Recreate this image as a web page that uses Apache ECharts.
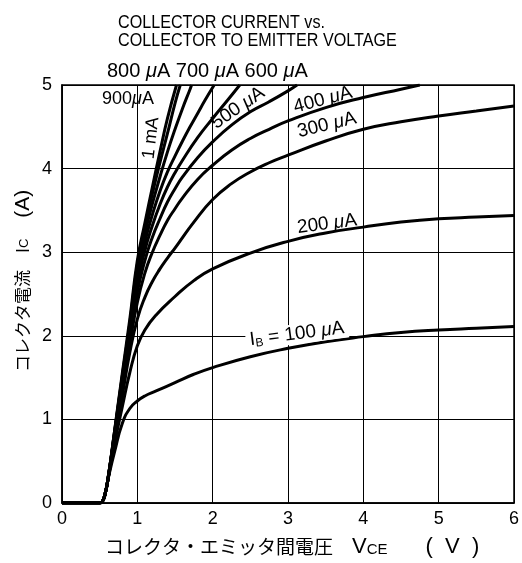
<!DOCTYPE html>
<html>
<head>
<meta charset="utf-8">
<script src="https://cdn.jsdelivr.net/npm/echarts@6/dist/echarts.min.js"></script>
<style>
html,body{margin:0;padding:0;background:#fff;}
#c{width:522px;height:563px;}
</style>
</head>
<body>
<div id="c"></div>
<script>
// Data (VCE [V], IC [A]) per base current
const xTicks = [0, 1, 2, 3, 4, 5, 6];
const yTicks = [0, 1, 2, 3, 4, 5];
const ib100 = [[0,0],[0.5,0],[0.53,0.01],[0.57,0.1],[0.62,0.32],[0.7,0.62],[0.8,0.95],[0.9,1.13],[1.0,1.22],[1.1,1.28],[1.25,1.34],[1.5,1.44],[1.75,1.54],[2,1.62],[2.5,1.75],[3,1.85],[3.5,1.93],[4,1.99],[4.5,2.04],[5,2.07],[5.5,2.09],[6,2.11]];
const ib200 = [[0,0],[0.5,0],[0.53,0.01],[0.57,0.1],[0.62,0.33],[0.7,0.72],[0.8,1.15],[0.9,1.56],[1.0,1.88],[1.1,2.07],[1.25,2.25],[1.5,2.47],[1.75,2.66],[2,2.8],[2.5,2.99],[3,3.13],[3.5,3.23],[4,3.3],[4.5,3.36],[5,3.4],[5.5,3.42],[6,3.44]];
const ib300 = [[0,0],[0.5,0],[0.53,0.01],[0.57,0.1],[0.62,0.33],[0.7,0.78],[0.8,1.28],[0.9,1.8],[1.0,2.2],[1.1,2.46],[1.2,2.65],[1.3,2.8],[1.4,2.93],[1.5,3.05],[1.75,3.36],[2,3.63],[2.25,3.82],[2.5,3.96],[2.75,4.07],[3,4.16],[3.5,4.33],[4,4.47],[4.5,4.56],[5,4.63],[5.5,4.69],[6,4.75]];
const ib400 = [[0,0],[0.5,0],[0.53,0.01],[0.57,0.1],[0.62,0.34],[0.7,0.81],[0.8,1.35],[0.9,1.9],[1.0,2.4],[1.1,2.75],[1.2,3.0],[1.3,3.2],[1.4,3.38],[1.5,3.52],[1.6,3.65],[1.8,3.87],[2,4.04],[2.25,4.22],[2.5,4.36],[2.75,4.47],[3,4.57],[3.5,4.73],[4,4.85],[4.5,4.95],[4.75,5.0]];
const ib500 = [[0,0],[0.5,0],[0.53,0.01],[0.57,0.1],[0.62,0.34],[0.7,0.83],[0.8,1.4],[0.9,1.95],[1.0,2.52],[1.1,2.9],[1.2,3.18],[1.3,3.4],[1.4,3.6],[1.5,3.76],[1.6,3.9],[1.8,4.13],[2,4.32],[2.25,4.52],[2.5,4.68],[2.75,4.8],[3,4.93],[3.12,5.0]];
const ib600 = [[0,0],[0.5,0],[0.53,0.01],[0.57,0.1],[0.62,0.34],[0.7,0.84],[0.8,1.44],[0.9,2.0],[1.0,2.62],[1.1,3.02],[1.2,3.32],[1.3,3.57],[1.4,3.78],[1.5,3.95],[1.6,4.1],[1.8,4.37],[2,4.6],[2.2,4.82],[2.36,5.0]];
const ib700 = [[0,0],[0.5,0],[0.53,0.01],[0.57,0.1],[0.62,0.34],[0.7,0.85],[0.8,1.47],[0.9,2.05],[1.0,2.7],[1.1,3.12],[1.2,3.45],[1.3,3.73],[1.4,3.96],[1.5,4.15],[1.6,4.33],[1.7,4.5],[1.8,4.66],[1.9,4.82],[2.02,5.0]];
const ib800 = [[0,0],[0.5,0],[0.53,0.01],[0.57,0.1],[0.62,0.35],[0.7,0.86],[0.8,1.5],[0.9,2.1],[1.0,2.78],[1.1,3.22],[1.2,3.58],[1.3,3.9],[1.4,4.2],[1.5,4.47],[1.6,4.72],[1.7,4.95],[1.72,5.0]];
const ib900 = [[0,0],[0.5,0],[0.53,0.01],[0.57,0.1],[0.62,0.35],[0.7,0.87],[0.8,1.52],[0.9,2.15],[1.0,2.85],[1.1,3.3],[1.2,3.7],[1.3,4.07],[1.4,4.42],[1.5,4.78],[1.57,5.0]];
const ib1000 = [[0,0],[0.5,0],[0.53,0.01],[0.57,0.1],[0.62,0.35],[0.7,0.88],[0.8,1.55],[0.9,2.2],[1.0,2.9],[1.1,3.35],[1.2,3.78],[1.3,4.2],[1.4,4.6],[1.52,5.0]];
const seriesNames = ['100 µA','200 µA','300 µA','400 µA','500 µA','600 µA','700 µA','800 µA','900 µA','1 mA'];
const seriesData = [ib100, ib200, ib300, ib400, ib500, ib600, ib700, ib800, ib900, ib1000];

const chart = echarts.init(document.getElementById('c'), null, {renderer: 'canvas'});
const FONT = '"Liberation Sans", Arial, Helvetica, sans-serif';
const JFONT = '"Noto Sans CJK JP", "Liberation Sans", sans-serif';

const series = seriesData.map((d, i) => ({
  name: seriesNames[i],
  type: 'line',
  data: d,
  showSymbol: false,
  smooth: 0.5,
  clip: true,
  lineStyle: {color: '#000', width: 3},
  silent: true,
  z: 3
}));

const mu = (fs) => ({fontFamily: FONT, fontStyle: 'italic', fontSize: fs, fill: '#000'});

chart.setOption({
  animation: false,
  backgroundColor: '#fff',
  grid: {left: 62, right: 8, top: 85, bottom: 60, show: true, borderColor: '#000', borderWidth: 1.5, backgroundColor: 'transparent'},
  xAxis: {
    type: 'value', min: xTicks[0], max: xTicks[xTicks.length - 1], interval: 1,
    axisLine: {show: true, lineStyle: {color: '#000', width: 1.5}},
    axisTick: {show: false},
    splitLine: {show: true, lineStyle: {color: '#000', width: 1}},
    axisLabel: {color: '#000', fontSize: 18, fontFamily: FONT, margin: 7}
  },
  yAxis: {
    type: 'value', min: yTicks[0], max: yTicks[yTicks.length - 1], interval: 1,
    axisLine: {show: true, lineStyle: {color: '#000', width: 1.5}},
    axisTick: {show: false},
    splitLine: {show: true, lineStyle: {color: '#000', width: 1}},
    axisLabel: {color: '#000', fontSize: 18, fontFamily: FONT, margin: 10}
  },
  series: series,
  graphic: [
    {type: 'text', x: 118, y: 14, scaleX: 0.95, scaleY: 1.1, style: {text: 'COLLECTOR CURRENT vs.\nCOLLECTOR TO EMITTER VOLTAGE', font: '17px ' + FONT, fill: '#000', lineHeight: 16}},
    // x axis name
    {type: 'text', x: 105, y: 547, style: {
      text: 'コレクタ・エミッタ間電圧　{v|V}{s|CE}　　{v|(  V  )}',
      font: '19px ' + JFONT, fill: '#000', align: 'left', verticalAlign: 'middle',
      rich: {
        v: {fontSize: 22, fontFamily: FONT, fill: '#000'},
        s: {fontSize: 15, fontFamily: FONT, fill: '#000', padding: [5,0,0,0]}
      }
    }},
    // y axis name
    {type: 'text', x: 23, y: 372, rotation: Math.PI / 2, style: {
      text: 'コレクタ電流　I{s|C}　 {p|(A)}',
      font: '17px ' + JFONT, fill: '#000', align: 'left', verticalAlign: 'middle',
      rich: {
        s: {fontSize: 13, fontFamily: FONT, fill: '#000', padding: [3,0,0,0]},
        p: {fontSize: 21, fontFamily: FONT, fill: '#000'}
      }
    }},
    // curve labels
    {type: 'text', x: 107, y: 71, z: 10, style: {text: '800 {m|μ}A 700 {m|μ}A 600 {m|μ}A', font: '20px ' + FONT, fill: '#000', verticalAlign: 'middle', rich: {m: mu(20)}}},
    {type: 'text', x: 102, y: 99, z: 10, style: {text: '900{m|μ}A', font: '18px ' + FONT, fill: '#000', verticalAlign: 'middle', rich: {m: mu(18)}}},
    {type: 'text', x: 151, y: 138, rotation: 1.45, z: 10, style: {text: '1 mA', font: '18px ' + FONT, fill: '#000', align: 'center', verticalAlign: 'middle'}},
    {type: 'text', x: 238, y: 108, rotation: 0.6, z: 10, style: {text: '500 {m|μ}A', font: '19px ' + FONT, fill: '#000', align: 'center', verticalAlign: 'middle', rich: {m: mu(19)}}},
    {type: 'text', x: 323, y: 100, rotation: 0.26, z: 10, style: {text: '400 {m|μ}A', font: '19px ' + FONT, fill: '#000', align: 'center', verticalAlign: 'middle', rich: {m: mu(19)}}},
    {type: 'text', x: 327, y: 125, rotation: 0.24, z: 10, style: {text: '300 {m|μ}A', font: '19px ' + FONT, fill: '#000', align: 'center', verticalAlign: 'middle', rich: {m: mu(19)}}},
    {type: 'text', x: 327, y: 224, rotation: 0.13, z: 10, style: {text: '200 {m|μ}A', font: '19px ' + FONT, fill: '#000', align: 'center', verticalAlign: 'middle', rich: {m: mu(19)}}},
    {type: 'text', x: 297, y: 334, rotation: 0.13, z: 10, style: {text: 'I{s|B} = 100 {m|μ}A', font: '19px ' + FONT, fill: '#000', align: 'center', verticalAlign: 'middle', backgroundColor: '#fff', padding: [0, 4, 0, 4],
      rich: {m: mu(19), s: {fontSize: 12, fontFamily: FONT, fill: '#000', padding: [8,0,0,0]}}}}
  ]
});
</script>
</body>
</html>
